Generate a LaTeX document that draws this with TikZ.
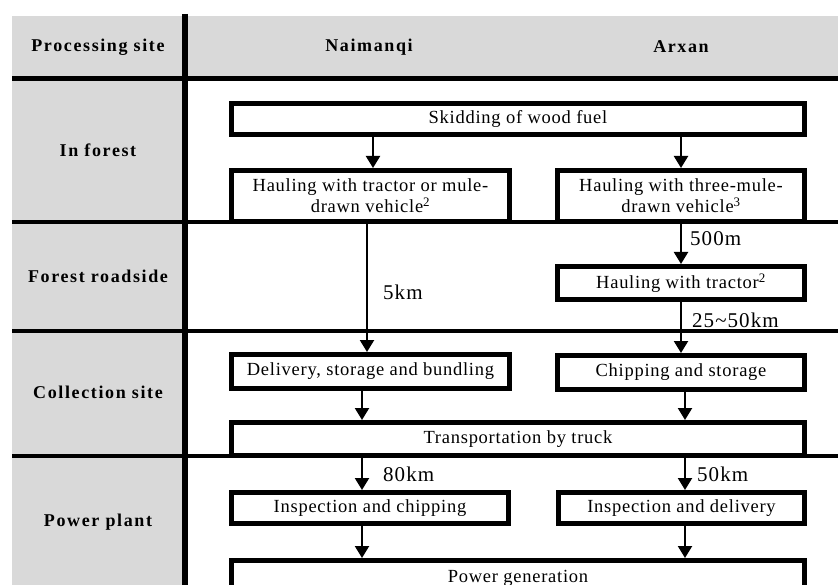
\documentclass[tikz,border=0pt]{standalone}
\usepackage{fontspec}
\setmainfont{Liberation Serif}
\newfontfamily\boxfont[LetterSpace=4]{Liberation Serif}
\newfontfamily\hdfont[LetterSpace=9]{Liberation Serif}
\newfontfamily\dstfont[LetterSpace=5]{Liberation Serif}
\usetikzlibrary{arrows.meta}
\definecolor{hdgray}{RGB}{217,217,217}
\begin{document}
\begin{tikzpicture}[x=1pt,y=-1pt,
  box/.style={draw,line width=5pt,fill=white,inner sep=0pt,align=center,
    font=\boxfont\fontsize{18.5}{21}\selectfont},
  hd/.style={font=\hdfont\bfseries\fontsize{18}{21}\selectfont},
  dst/.style={anchor=west,inner sep=0pt,font=\dstfont\fontsize{21}{24}\selectfont},
  arr/.style={line width=2.2pt,-{Triangle[width=14pt,length=12pt]}},
  rowline/.style={line width=3.7pt},
]
\path[use as bounding box,clip] (0,0) rectangle (838,585);
% gray backgrounds
\fill[hdgray] (12,16) rectangle (838,79);
\fill[hdgray] (12,16) rectangle (185,585);
% table lines
\draw[line width=5pt] (12,79) -- (838,79);
\draw[rowline] (12,222) -- (838,222);
\draw[rowline] (12,331) -- (838,331);
\draw[rowline] (12,456) -- (838,456);
\draw[line width=5.5pt] (185,14) -- (185,585);
% header texts
\node[hd] (hproc) at (98,47) {Processing site};
\node[hd] (hnai) at (369,47) {Naimanqi};
\node[hd] (harx) at (681,47) {Arxan};
\node[hd] (rforest) at (98,150) {In forest};
\node[hd] (rroad) at (98,276) {Forest roadside};
\node[hd] (rcoll) at (98,392) {Collection site};
\node[hd] (rpower) at (98,522) {Power plant};
% boxes
\node[box,minimum width=573,minimum height=31] (skid) at (518,119) {Skidding of wood fuel};
\node[box,minimum width=278,minimum height=51] (haulL) at (370.5,196) {Hauling with tractor or mule-\\drawn vehicle\textsuperscript{2}};
\node[box,minimum width=247,minimum height=51] (haulR) at (681,196) {Hauling with three-mule-\\drawn vehicle\textsuperscript{3}};
\node[box,minimum width=247,minimum height=33] (tractor) at (681,283) {Hauling with tractor\textsuperscript{2}};
\node[box,minimum width=278,minimum height=34] (deliv) at (370.5,371.5) {Delivery, storage and bundling};
\node[box,minimum width=247,minimum height=34] (chip) at (681,372.5) {Chipping and storage};
\node[box,minimum width=573,minimum height=33] (truck) at (518,439) {Transportation by truck};
\node[box,minimum width=277,minimum height=31] (inspC) at (370,508) {Inspection and chipping};
\node[box,minimum width=246,minimum height=31] (inspD) at (681.5,508) {Inspection and delivery};
\node[box,minimum width=573,minimum height=35] (power) at (518,578) {Power generation};
% arrow columns
\coordinate (cA) at (373,0);
\coordinate (cB) at (367,0);
\coordinate (cC) at (362,0);
\coordinate (cD) at (681,0);
\coordinate (cE) at (685,0);
% arrows
\draw[arr] (skid.south -| cA) -- (haulL.north -| cA);
\draw[arr] (skid.south -| cD) -- (haulR.north -| cD);
\draw[arr] (haulL.south -| cB) -- (deliv.north -| cB);
\draw[arr] (haulR.south -| cD) -- (tractor.north -| cD);
\draw[arr] (tractor.south -| cD) -- (chip.north -| cD);
\draw[arr] (deliv.south -| cC) -- (truck.north -| cC);
\draw[arr] (chip.south -| cE) -- (truck.north -| cE);
\draw[arr] (truck.south -| cC) -- (inspC.north -| cC);
\draw[arr] (truck.south -| cE) -- (inspD.north -| cE);
\draw[arr] (inspC.south -| cC) -- (power.north -| cC);
\draw[arr] (inspD.south -| cE) -- (power.north -| cE);
% distance labels
\node[dst] (d5km) at (383,292) {5km};
\node[dst] (d500m) at (690,239) {500m};
\node[dst] (d2550) at (692,320) {25\textasciitilde50km};
\node[dst] (d80km) at (383,474) {80km};
\node[dst] (d50km) at (697,474) {50km};
\end{tikzpicture}
\end{document}
